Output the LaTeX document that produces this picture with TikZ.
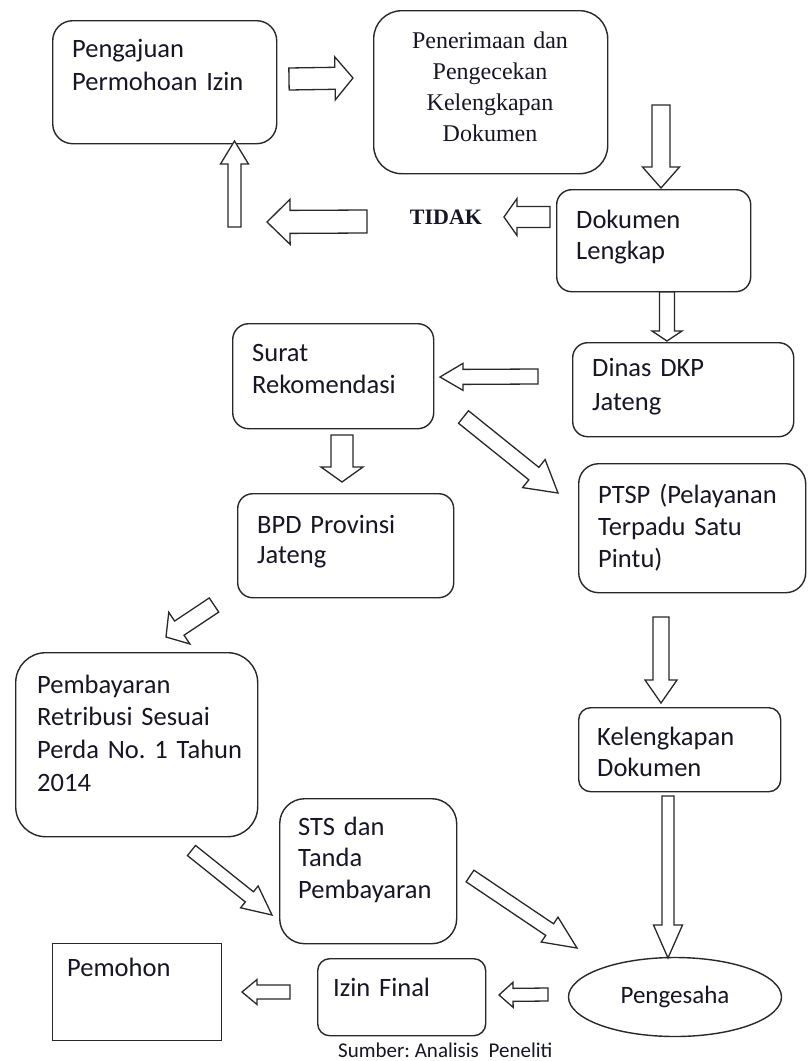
\documentclass[tikz,border=0pt]{standalone}
\usepackage{fontspec}
\setmainfont{Carlito}
\newfontfamily\serifT{Liberation Serif}
\usetikzlibrary{calc,shapes.geometric}
\definecolor{ln}{RGB}{40,40,40}
\definecolor{tx}{RGB}{22,22,40}
\frenchspacing
\tikzset{
  box/.style={draw=ln, line width=1.4pt, anchor=north west, inner sep=0pt, fill=white},
  txt/.style={anchor=base west, inner sep=0pt, text=tx, align=left, text width=240pt,
              font=\fontsize{26.5}{#1}\selectfont},
  txt/.default=32,
  blockarrow/.style={draw=ln, line width=1.3pt, fill=white, line join=miter},
}
\newcommand\fatarr[4]{%
  \coordinate (#1n) at ($(#1e)!#4pt!(#1s)$);
  \draw[blockarrow] ($(#1s)!#2pt!90:(#1e)$) -- ($(#1n)!#2pt!90:(#1e)$) -- ($(#1n)!#3pt!90:(#1e)$)
    -- (#1e) -- ($(#1n)!#3pt!-90:(#1e)$) -- ($(#1n)!#2pt!-90:(#1e)$) -- ($(#1s)!#2pt!-90:(#1e)$) -- cycle;}
\begin{document}
\begin{tikzpicture}[x=1pt,y=-1pt]
\useasboundingbox[fill=white] (0,0) rectangle (807,1061);

% boxes
\node[box, rounded corners=20pt, minimum width=224pt, minimum height=123pt] (b1) at (52,20) {};
\node[box, rounded corners=28pt, minimum width=234pt, minimum height=163pt] (b2) at (373,10) {};
\node[box, rounded corners=15pt, minimum width=194pt, minimum height=102pt] (dokl) at (556,189) {};
\node[box, rounded corners=15pt, minimum width=221pt, minimum height=94pt] (dinas) at (572,342) {};
\node[box, rounded corners=16pt, minimum width=201pt, minimum height=105pt] (surat) at (232,323) {};
\node[box, rounded corners=15pt, minimum width=216pt, minimum height=104pt] (bpd) at (237,493) {};
\node[box, rounded corners=20pt, minimum width=227pt, minimum height=129pt] (ptsp) at (578,463) {};
\node[box, rounded corners=30pt, minimum width=242pt, minimum height=184pt] (pemb) at (15,652) {};
\node[box, rounded corners=12pt, minimum width=202pt, minimum height=84pt] (kel) at (578,707) {};
\node[box, rounded corners=25pt, minimum width=177pt, minimum height=145pt] (sts) at (279,798) {};
\node[box, rounded corners=12pt, minimum width=168pt, minimum height=77pt] (izin) at (317,958) {};
\node[box, minimum width=169pt, minimum height=97pt] (pem) at (52,943) {};
\node[draw=ln, line width=1.4pt, ellipse, minimum width=213pt, minimum height=79pt, inner sep=0pt,
      text=tx, font=\fontsize{25}{28}\selectfont] (peng) at (675,997) {Pengesaha};

% texts
\node[txt=33] (t-b1) at (72,57) {Pengajuan\\Permohoan Izin};
\node[anchor=base, inner sep=0pt, align=center, text width=230pt, text=tx,
      font=\serifT\fontsize{24}{31}\selectfont] (t-b2) at (490,48) {Penerimaan dan\\Pengecekan\\Kelengkapan\\Dokumen};
\node[txt=31] (t-dokl) at (576,228) {Dokumen\\Lengkap};
\node[txt=34] (t-dinas) at (592,376) {Dinas DKP\\Jateng};
\node[txt=32] (t-surat) at (252,361) {Surat\\Rekomendasi};
\node[txt=30] (t-bpd) at (257,533) {BPD Provinsi\\Jateng};
\node[txt=32] (t-ptsp) at (598,503) {PTSP (Pelayanan\\Terpadu Satu\\Pintu)};
\node[txt=32.7] (t-pemb) at (37,693) {Pembayaran\\Retribusi Sesuai\\Perda No. 1 Tahun\\2014};
\node[txt=31] (t-kel) at (597,745) {Kelengkapan\\Dokumen};
\node[txt=31.5] (t-sts) at (298,835) {STS dan\\Tanda\\Pembayaran};
\node[txt] (t-pem) at (67,976) {Pemohon};
\node[txt] (t-izin) at (333,996) {Izin Final};
\node[text=tx, inner sep=0pt, font=\serifT\bfseries\fontsize{22}{24}\selectfont] (tidak) at (446,217) {TIDAK};
\node[anchor=west, inner sep=0pt, text=tx, font=\fontsize{21}{24}\selectfont] (src) at (338,1050) {Sumber: Analisis\hspace{5pt} Peneliti};

% arrow end points
\coordinate (a1s) at (289,79);    \coordinate (a1e) at (353,78);
\coordinate (a2s) at (661,105);   \coordinate (a2e) at (661,188);
\coordinate (a3s) at (550,217);   \coordinate (a3e) at (504,217);
\coordinate (a4s) at (367,221.5); \coordinate (a4e) at (267,222);
\coordinate (a5s) at (234.5,227); \coordinate (a5e) at (234.5,141);
\coordinate (a6s) at (667,292);   \coordinate (a6e) at (667,341);
\coordinate (a7s) at (538,376.5); \coordinate (a7e) at (440,377);
\coordinate (a8s) at (463.5,417); \coordinate (a8e) at (558,493);
\coordinate (a9s) at (342,435);   \coordinate (a9e) at (342,482);
\coordinate (a10s) at (214,605);  \coordinate (a10e) at (166,637);
\coordinate (a11s) at (661,617);  \coordinate (a11e) at (661,703);
\coordinate (a12s) at (668,796);  \coordinate (a12e) at (668,958);
\coordinate (a13s) at (191.5,850.5); \coordinate (a13e) at (272,915);
\coordinate (a14s) at (470,876);  \coordinate (a14e) at (577,948);
\coordinate (a15s) at (548,994.5); \coordinate (a15e) at (499,995);
\coordinate (a16s) at (290,992);  \coordinate (a16e) at (242,992);

% block arrows
\fatarr{a1}{11}{21.5}{18}
\fatarr{a2}{9}{18.5}{21}
\fatarr{a3}{10.5}{18.5}{13}
\fatarr{a4}{11.5}{22.5}{23}
\fatarr{a5}{6.5}{14}{23}
\fatarr{a6}{7.5}{15}{10}
\fatarr{a7}{7.5}{13.5}{23}
\fatarr{a8}{8}{18}{31}
\fatarr{a9}{11}{21}{15}
\fatarr{a10}{8.5}{19}{16}
\fatarr{a11}{8}{16}{23}
\fatarr{a12}{6}{14.5}{33}
\fatarr{a13}{6.5}{14}{29}
\fatarr{a14}{7}{15}{33}
\fatarr{a15}{6.5}{12.5}{14}
\fatarr{a16}{7}{12.5}{15}
\end{tikzpicture}
\end{document}
